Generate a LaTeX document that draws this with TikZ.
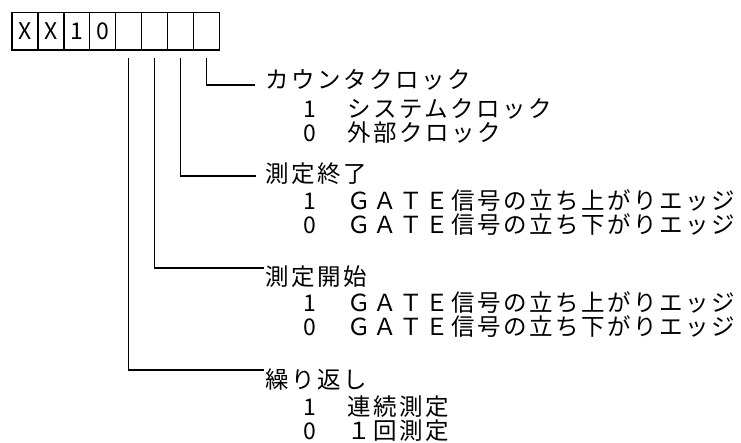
\documentclass[tikz,border=0pt]{standalone}
\usepackage{fontspec}
\newfontfamily\jp[LetterSpace=10.6]{Noto Sans CJK JP}
\newfontfamily\jpn{Noto Sans CJK JP}
\begin{document}
\begin{tikzpicture}[x=1pt,y=-1pt,
  cellbox/.style={draw, line width=1.4pt, minimum width=25.9pt, minimum height=37.1pt,
    inner sep=0pt, outer sep=0pt, anchor=north west, font=\jpn\fontsize{23}{23}\selectfont},
  titletext/.style={anchor=base west, inner sep=0pt, font=\jp\fontsize{23.5}{24}\selectfont},
  desctext/.style={anchor=base west, inner sep=0pt, font=\jp\fontsize{23.5}{24}\selectfont},
  digittext/.style={anchor=base, inner sep=0pt, font=\jpn\fontsize{23}{23}\selectfont},
  conn/.style={line width=1.4pt, line cap=rect}]
\useasboundingbox (0,0) rectangle (741,442);
% register cells
\node[cellbox] (c1) at (12.0,12.7) {X};
\node[cellbox] (c2) at (37.9,12.7) {X};
\node[cellbox] (c3) at (63.8,12.7) {1};
\node[cellbox] (c4) at (89.7,12.7) {0};
\node[cellbox] (c5) at (115.6,12.7) {};
\node[cellbox] (c6) at (141.5,12.7) {};
\node[cellbox] (c7) at (167.4,12.7) {};
\node[cellbox] (c8) at (193.3,12.7) {};
% group 1
\node[titletext] (t1) at (265.5,88) {カウンタクロック};
\node[digittext] (d11) at (310,117) {1};
\node[desctext] (r11) at (347.5,117) {システムクロック};
\node[digittext] (d10) at (310,141) {0};
\node[desctext] (r10) at (347.5,141) {外部クロック};
% group 2
\node[titletext] (t2) at (265.5,182) {測定終了};
\node[digittext] (d21) at (310,209) {1};
\node[desctext] (r21) at (347.5,209) {ＧＡＴＥ信号の立ち上がりエッジ};
\node[digittext] (d20) at (310,233) {0};
\node[desctext] (r20) at (347.5,233) {ＧＡＴＥ信号の立ち下がりエッジ};
% group 3
\node[titletext] (t3) at (265.5,285) {測定開始};
\node[digittext] (d31) at (310,311) {1};
\node[desctext] (r31) at (347.5,311) {ＧＡＴＥ信号の立ち上がりエッジ};
\node[digittext] (d30) at (310,335) {0};
\node[desctext] (r30) at (347.5,335) {ＧＡＴＥ信号の立ち下がりエッジ};
% group 4
\node[titletext] (t4) at (265.5,388) {繰り返し};
\node[digittext] (d41) at (310,415) {1};
\node[desctext] (r41) at (347.5,415) {連続測定};
\node[digittext] (d40) at (310,439) {0};
\node[desctext] (r40) at (347.5,439) {１回測定};
% connector ends
\coordinate (e1) at (254,85);
\coordinate (e2) at (255,176);
\coordinate (e3) at (263,268);
\coordinate (e4) at (263,370);
\draw[conn] ([yshift=-9.2pt]c8.south) |- (e1);
\draw[conn] ([yshift=-9.2pt]c7.south) |- (e2);
\draw[conn] ([yshift=-9.2pt]c6.south) |- (e3);
\draw[conn] ([yshift=-9.2pt]c5.south) |- (e4);
\end{tikzpicture}
\end{document}
